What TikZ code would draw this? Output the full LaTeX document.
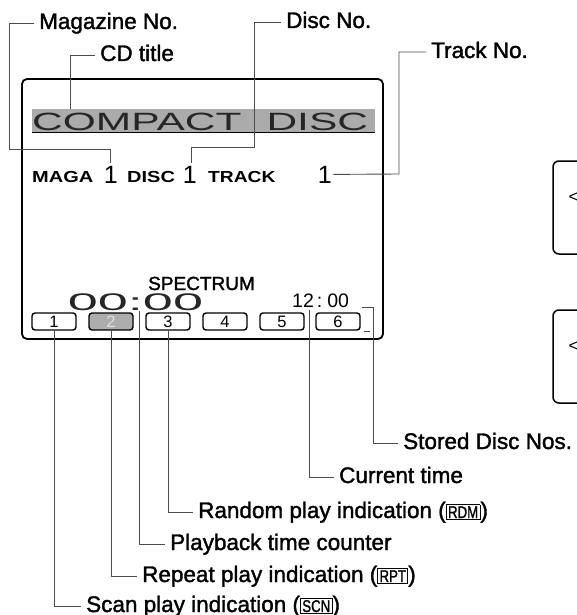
\documentclass[tikz,border=0pt]{standalone}
\usepackage{fontspec}
\setmainfont{Liberation Sans}
\newfontfamily\medfont{Liberation Sans}[FakeBold=1.6]
\usepackage{graphicx}
\newcommand\mykey[1]{{\setlength\fboxsep{1.3pt}\setlength\fboxrule{0.9pt}\fbox{\fontsize{17}{17}\selectfont\scalebox{0.78}[1]{#1}}}}
\tikzset{
  lbl/.style={anchor=base west, inner sep=0pt, font=\medfont\fontsize{22.5}{27}\selectfont},
  leader/.style={draw=black!70, line width=0.9pt},
  rowtxt/.style={anchor=base west, inner sep=0pt, font=\bfseries\fontsize{16}{16}\selectfont},
  bigone/.style={anchor=base, inner sep=0pt, font=\fontsize{25}{25}\selectfont},
  dbox/.style={draw, rounded corners=3pt, line width=1.4pt, minimum width=44pt, minimum height=17pt, inner sep=0pt, font=\fontsize{16.5}{16.5}\selectfont},
  sidebox/.style={draw, line width=1.5pt, rounded corners=6pt},
}
\begin{document}
\begin{tikzpicture}[x=1pt,y=-1pt]
\useasboundingbox (0,0) rectangle (576,615);

% display frame
\draw[line width=1.8pt, rounded corners=5pt] (22,79) rectangle (383,339);

% title band
\fill[black!33] (32,109) rectangle (375,132);
\draw[line width=1.6pt] (32,132.5) -- (375,132.5);
\node[anchor=base west, inner sep=0pt, font=\fontsize{25}{25}\selectfont, text=black!85] (title) at (32,130) {\scalebox{1.7}[1]{COMPACT\hspace{14.7pt}DISC}};
\coordinate (cdT) at (70,109.5);

% second row
\node[rowtxt] (maga) at (32,182) {\scalebox{1.25}[1]{MAGA}};
\node[bigone] (m1) at (110.7,183) {1};
\node[rowtxt] (disc) at (127,182) {\scalebox{1.25}[1]{DISC}};
\node[bigone] (d1) at (189.7,183) {1};
\node[rowtxt] (track) at (208,182) {\scalebox{1.2}[1]{TRACK}};
\node[bigone] (t1) at (324.7,183) {1};

% bottom part
\node[anchor=base west, inner sep=0pt, font=\medfont\fontsize{19}{19}\selectfont] (spec) at (148,290) {SPECTRUM};
\node[anchor=base, inner sep=0pt, font=\fontsize{24}{24}\selectfont, text=black!85] (cnt) at (135.5,310) {\scalebox{2.25}[1]{00:00}};
\node[anchor=base west, inner sep=0pt, font=\fontsize{19.5}{19.5}\selectfont] (clk) at (292,307) {12\hspace{3pt}:\hspace{5pt}00};
\coordinate (cntB) at (139,311);
\coordinate (clkB) at (309,310);
\coordinate (stT) at (362,307);
\coordinate (stK) at (364,331);

\node[dbox] (b1) at (54,321.5) {1};
\node[dbox, fill=black!32, text=black!12] (b2) at (111,321.5) {2};
\node[dbox] (b3) at (168,321.5) {3};
\node[dbox] (b4) at (225,321.5) {4};
\node[dbox] (b5) at (282,321.5) {5};
\node[dbox] (b6) at (338,321.5) {6};

% right-hand partial frames
\draw[sidebox] (553,161) rectangle (615,254);
\draw[sidebox] (553,310) rectangle (615,403);
\node[anchor=west, inner sep=0pt, font=\fontsize{17}{17}\selectfont] (ltA) at (568.5,198) {<};
\node[anchor=west, inner sep=0pt, font=\fontsize{17}{17}\selectfont] (ltB) at (568.5,347) {<};

% labels
\node[lbl] (mag) at (39,29) {Magazine No.};
\node[lbl] (cdt) at (100,61) {CD title};
\node[lbl] (dno) at (286,28) {Disc No.};
\node[lbl] (trk) at (431,58) {Track No.};
\node[lbl] (sto) at (403,449) {Stored Disc Nos.};
\node[lbl] (cur) at (339,483) {Current time};
\node[lbl] (rdm) at (198,518) {Random play indication (\mykey{RDM})};
\node[lbl] (pbt) at (170,550) {Playback time counter};
\node[lbl] (rpt) at (142,582) {Repeat play indication (\mykey{RPT})};
\node[lbl] (scn) at (86,612) {Scan play indication (\mykey{SCN})};

% leaders
\draw[leader] ([xshift=-5pt,yshift=6pt]mag.base west) -| (9,149) -| ([yshift=3pt]m1.north);
\draw[leader] ([xshift=-5pt,yshift=6pt]cdt.base west) -| (cdT);
\draw[leader] ([xshift=-5pt,yshift=6pt]dno.base west) -| (254,147) -| ([xshift=2pt,yshift=3pt]d1.north);
\draw[leader] ([xshift=-5pt,yshift=6pt]trk.base west) -| (399,174) -- ([xshift=1.5pt]t1.east);
\draw[leader] (stT) -- (373,307) |- ([xshift=-5pt,yshift=6pt]sto.base west);
\draw[leader] (stK) -- (370,331);
\draw[leader] (clkB) |- ([xshift=-5pt,yshift=6pt]cur.base west);
\draw[leader] (b3.south) |- ([xshift=-5pt,yshift=6pt]rdm.base west);
\draw[leader] (cntB) |- ([xshift=-5pt,yshift=6pt]pbt.base west);
\draw[leader] (b2.south) |- ([xshift=-5pt,yshift=6pt]rpt.base west);
\draw[leader] (b1.south) |- ([xshift=-5pt,yshift=6pt]scn.base west);
\end{tikzpicture}
\end{document}
